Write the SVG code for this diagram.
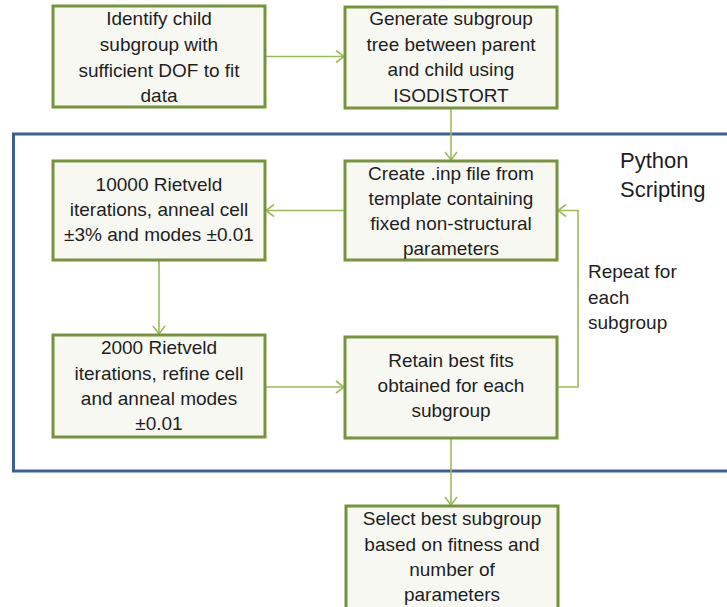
<svg xmlns="http://www.w3.org/2000/svg" width="727" height="607" viewBox="0 0 727 607">
<style>
.box{fill:#F8F8F3;stroke:#77933C;stroke-width:3}
.t{font-family:"Liberation Sans",Arial,sans-serif;font-size:19px;fill:#1E1E1E;text-anchor:middle}
.l{font-family:"Liberation Sans",Arial,sans-serif;font-size:19px;fill:#1E1E1E}
.c{fill:none;stroke:#9BBB59;stroke-width:1.6}
</style>
<defs>
<marker id="a" markerWidth="12" markerHeight="14" refX="9" refY="7" orient="auto" markerUnits="userSpaceOnUse">
<path d="M1,1 L9,7 L1,13" fill="none" stroke="#9BBB59" stroke-width="1.6"/>
</marker>
</defs>
<rect id="python-scripting" x="13.5" y="134" width="730" height="337" fill="none" stroke="#3B5F93" stroke-width="3"/>
<text class="l" x="620" y="168" style="font-size:22px">Python</text>
<text class="l" x="620" y="197" style="font-size:22px">Scripting</text>
<g id="connectors">
<path class="c" d="M265,56.5 H344" marker-end="url(#a)"/>
<path class="c" d="M451,108 V160" marker-end="url(#a)"/>
<path class="c" d="M345,210.5 H266" marker-end="url(#a)"/>
<path class="c" d="M159,260 V334" marker-end="url(#a)"/>
<path class="c" d="M265,387 H344" marker-end="url(#a)"/>
<path class="c" d="M557,387 H578 V210.5 H558" marker-end="url(#a)"/>
<path class="c" d="M451,438 V505" marker-end="url(#a)"/>
</g>
<g id="n1">
<rect class="box" x="53" y="6" width="212" height="101"/>
<text class="t" x="159" y="25">Identify child</text>
<text class="t" x="159" y="51">subgroup with</text>
<text class="t" x="159" y="77">sufficient DOF to fit</text>
<text class="t" x="159" y="102">data</text>
</g>
<g id="n2">
<rect class="box" x="345" y="7" width="212" height="101"/>
<text class="t" x="451" y="25">Generate subgroup</text>
<text class="t" x="451" y="51">tree between parent</text>
<text class="t" x="451" y="76">and child using</text>
<text class="t" x="451" y="102">ISODISTORT</text>
</g>
<g id="n3">
<rect class="box" x="345" y="161" width="212" height="99"/>
<text class="t" x="451" y="180">Create .inp file from</text>
<text class="t" x="451" y="205">template containing</text>
<text class="t" x="451" y="230">fixed non-structural</text>
<text class="t" x="451" y="255">parameters</text>
</g>
<g id="n4">
<rect class="box" x="53" y="161" width="212" height="99"/>
<text class="t" x="159" y="191">10000 Rietveld</text>
<text class="t" x="159" y="216">iterations, anneal cell</text>
<text class="t" x="159" y="241">±3% and modes ±0.01</text>
</g>
<g id="n5">
<rect class="box" x="53" y="335" width="212" height="102"/>
<text class="t" x="159" y="354">2000 Rietveld</text>
<text class="t" x="159" y="380">iterations, refine cell</text>
<text class="t" x="159" y="405">and anneal modes</text>
<text class="t" x="159" y="430">±0.01</text>
</g>
<g id="n6">
<rect class="box" x="345" y="337" width="212" height="101"/>
<text class="t" x="451" y="367">Retain best fits</text>
<text class="t" x="451" y="392">obtained for each</text>
<text class="t" x="451" y="417">subgroup</text>
</g>
<g id="n7">
<rect class="box" x="346" y="506" width="212" height="110"/>
<text class="t" x="452" y="525">Select best subgroup</text>
<text class="t" x="452" y="551">based on fitness and</text>
<text class="t" x="452" y="576">number of</text>
<text class="t" x="452" y="601">parameters</text>
</g>
<g id="loop-label">
<text class="l" x="588" y="278">Repeat for</text>
<text class="l" x="588" y="304">each</text>
<text class="l" x="588" y="329">subgroup</text>
</g>
</svg>
